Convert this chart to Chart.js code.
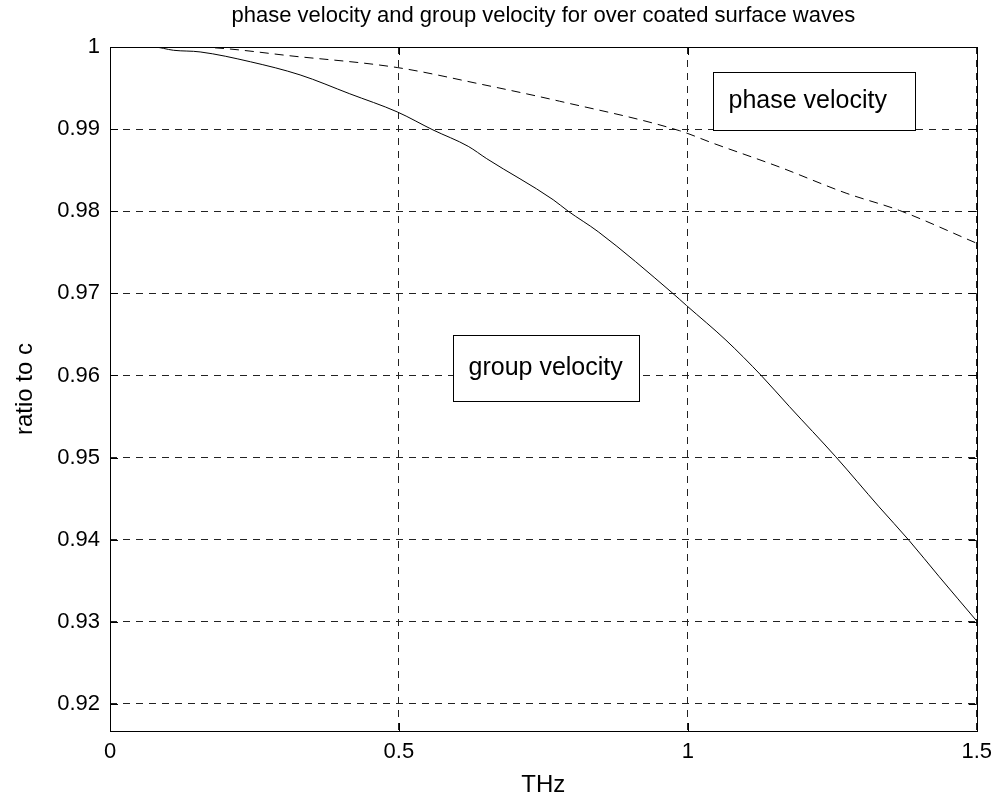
<!DOCTYPE html>
<html>
<head>
<meta charset="utf-8">
<script src="https://cdn.jsdelivr.net/npm/chart.js@4"></script>
<style>
  html, body { margin: 0; padding: 0; background: #fff; }
  #wrap { width: 1000px; height: 801px; }
</style>
</head>
<body>
<div id="wrap"><canvas id="chart" width="1000" height="801"></canvas></div>
<script>
// values
const groupFreq = [0, 0.075, 0.110, 0.156, 0.243, 0.329, 0.415, 0.497, 0.559, 0.620, 0.652, 0.767, 0.793, 0.845, 0.974, 0.998, 1.066, 1.127, 1.176, 1.256, 1.331, 1.383, 1.435, 1.5]
const groupVel = [1.0, 1.0, 0.9996, 0.9994, 0.9982, 0.9966, 0.9943, 0.9921, 0.9899, 0.9879, 0.9864, 0.9814, 0.9800, 0.9775, 0.9700, 0.9685, 0.9643, 0.9600, 0.9562, 0.9501, 0.9440, 0.9399, 0.9355, 0.9301]

const phaseFreq = [0, 0.139, 0.329, 0.497, 0.640, 0.778, 0.986, 1.043, 1.158, 1.274, 1.366, 1.5]
const phaseVel = [1.0, 1.0, 0.9988, 0.9975, 0.9955, 0.9934, 0.9898, 0.9883, 0.9854, 0.9822, 0.9801, 0.9761]

const xTicks = [0, 0.5, 1, 1.5]
const yTicks = [0.92, 0.93, 0.94, 0.95, 0.96, 0.97, 0.98, 0.99, 1]

const labels = [
  { text: "phase velocity", x1: 1.043, x2: 1.393, y1: 0.99696, y2: 0.98986 },
  { text: "group velocity", x1: 0.594, x2: 0.915, y1: 0.96489, y2: 0.95689 },
]

const FONT = "'Liberation Sans', Arial, sans-serif"

const toPoints = (xs, ys) => xs.map((x, i) => ({ x: x, y: ys[i] }))
const fmt = (v) => String(+(+v).toFixed(2))

// axes box, inward tick marks, title and text boxes
const matlabLook = {
  id: "matlabLook",
  afterDatasetsDraw(chart) {
    const { ctx, chartArea: a, scales } = chart
    ctx.save()
    ctx.strokeStyle = "#000"
    ctx.lineWidth = 1
    ctx.setLineDash([])
    ctx.beginPath()
    yTicks.forEach((v) => {
      const y = Math.round(scales.y.getPixelForValue(v)) + 0.5
      ctx.moveTo(a.left, y); ctx.lineTo(a.left + 8, y)
      ctx.moveTo(a.right, y); ctx.lineTo(a.right - 8, y)
    })
    xTicks.forEach((v) => {
      const x = Math.round(scales.x.getPixelForValue(v)) + 0.5
      ctx.moveTo(x, a.bottom); ctx.lineTo(x, a.bottom - 8)
      ctx.moveTo(x, a.top); ctx.lineTo(x, a.top + 8)
    })
    ctx.stroke()
    ctx.strokeRect(Math.round(a.left) + 0.5, Math.round(a.top) + 0.5,
      Math.round(a.right - a.left), Math.round(a.bottom - a.top))

    ctx.fillStyle = "#000"
    ctx.font = "22px " + FONT
    ctx.textAlign = "center"
    ctx.textBaseline = "middle"
    ctx.fillText("phase velocity and group velocity for over coated surface waves", (a.left + a.right) / 2, 16)

    ctx.font = "25px " + FONT
    ctx.textAlign = "left"
    labels.forEach((l) => {
      const x1 = Math.round(scales.x.getPixelForValue(l.x1)) + 0.5
      const x2 = Math.round(scales.x.getPixelForValue(l.x2)) + 0.5
      const y1 = Math.round(scales.y.getPixelForValue(l.y1)) + 0.5
      const y2 = Math.round(scales.y.getPixelForValue(l.y2)) + 0.5
      ctx.fillStyle = "#fff"
      ctx.fillRect(x1, y1, x2 - x1, y2 - y1)
      ctx.strokeRect(x1, y1, x2 - x1, y2 - y1)
      ctx.fillStyle = "#000"
      ctx.fillText(l.text, x1 + 15, (y1 + y2) / 2)
    })
    ctx.restore()
  }
}

const config = {
  type: "line",
  data: {
    datasets: [
      {
        label: "group velocity",
        data: toPoints(groupFreq, groupVel),
        borderColor: "#000",
        borderWidth: 1,
        pointRadius: 0,
        cubicInterpolationMode: "monotone",
        fill: false,
      },
      {
        label: "phase velocity",
        data: toPoints(phaseFreq, phaseVel),
        borderColor: "#000",
        borderWidth: 1,
        borderDash: [9, 6],
        pointRadius: 0,
        cubicInterpolationMode: "monotone",
        fill: false,
      },
    ],
  },
  options: {
    responsive: false,
    animation: false,
    layout: { padding: { top: 47, right: 22, left: 0, bottom: 0 } },
    plugins: {
      legend: { display: false },
      title: { display: false },
      tooltip: { enabled: false },
    },
    scales: {
      x: {
        type: "linear",
        min: 0,
        max: 1.5,
        afterBuildTicks: (s) => { s.ticks = xTicks.map((v) => ({ value: v })) },
        afterFit: (s) => { s.height = 70 },
        ticks: {
          color: "#000",
          font: { family: FONT, size: 22 },
          padding: 8,
          maxRotation: 0,
          callback: (v) => fmt(v),
        },
        grid: { color: "#222", lineWidth: 1, drawTicks: false },
        border: { display: false, dash: [7, 6] },
        title: {
          display: true,
          text: "THz",
          color: "#000",
          font: { family: FONT, size: 24 },
          padding: { top: 0, bottom: 1 },
        },
      },
      y: {
        type: "linear",
        min: 0.9167,
        max: 1,
        afterBuildTicks: (s) => { s.ticks = yTicks.map((v) => ({ value: v })) },
        afterFit: (s) => { s.width = 110 },
        ticks: {
          color: "#000",
          font: { family: FONT, size: 22 },
          padding: 10,
          callback: (v) => fmt(v),
        },
        grid: { color: "#222", lineWidth: 1, drawTicks: false },
        border: { display: false, dash: [7, 6] },
        title: {
          display: true,
          text: "ratio to c",
          color: "#000",
          font: { family: FONT, size: 24 },
          padding: { top: 11, bottom: 0 },
        },
      },
    },
  },
  plugins: [matlabLook],
}

const velocityChart = new Chart(document.getElementById("chart"), config)
</script>
</body>
</html>
